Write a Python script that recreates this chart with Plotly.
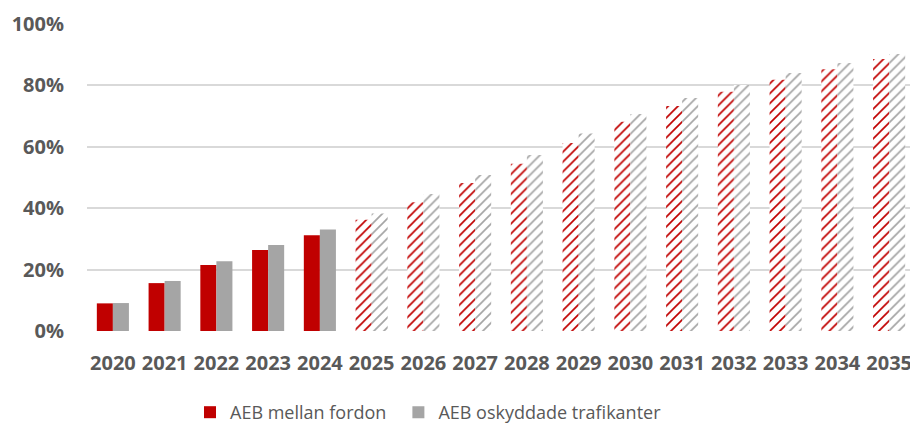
import plotly.graph_objects as go

years = [str(y) for y in range(2020, 2036)]
aeb_fordon = [0.090, 0.156, 0.215, 0.264, 0.312, 0.362, 0.419, 0.482, 0.545, 0.612,
              0.682, 0.733, 0.779, 0.818, 0.853, 0.886]
aeb_oskyddade = [0.091, 0.163, 0.227, 0.280, 0.331, 0.383, 0.446, 0.508, 0.573, 0.643,
                 0.707, 0.759, 0.801, 0.840, 0.873, 0.902]
# historik solid, prognos (2025-) randig
forecast_from = 2025
shapes = ["" if int(y) < forecast_from else "/" for y in years]

RED = "#C00000"
GREY = "#A5A5A5"
TXT = "#595959"

fig = go.Figure()
fig.add_trace(go.Bar(
    x=years, y=aeb_fordon, name="AEB mellan fordon", legend="legend",
    marker=dict(color=RED, line=dict(width=0),
                pattern=dict(shape=shapes, fillmode="replace", bgcolor="white",
                             fgcolor=RED, size=7, solidity=0.24)),
))
fig.add_trace(go.Bar(
    x=years, y=aeb_oskyddade, name="AEB oskyddade trafikanter", legend="legend2",
    marker=dict(color=GREY, line=dict(width=0),
                pattern=dict(shape=shapes, fillmode="replace", bgcolor="white",
                             fgcolor=GREY, size=7, solidity=0.24)),
))

leg = dict(orientation="h", xref="container", yref="container", xanchor="left",
           yanchor="middle", y=0.03, font=dict(size=18, color=TXT), itemwidth=30,
           bgcolor="rgba(0,0,0,0)")

# sidan har 8px body-marginal, därför 910x417
fig.update_layout(
    width=910, height=417,
    margin=dict(l=79, r=3, t=16, b=94, autoexpand=False),
    paper_bgcolor="white", plot_bgcolor="white",
    barmode="group", bargap=0.38, bargroupgap=0,
    font=dict(family="Open Sans", color=TXT),
    legend=dict(leg, x=0.2),
    legend2=dict(leg, x=0.429),
    showlegend=True,
)
fig.update_xaxes(tickfont=dict(size=20, color=TXT, weight="bold"), showgrid=False,
                 showline=False, ticks="", ticklabelstandoff=18, automargin=False)
fig.update_yaxes(range=[0, 1], dtick=0.2, tickformat=".0%",
                 tickfont=dict(size=20, color=TXT, weight="bold"),
                 showgrid=True, gridcolor="#D9D9D9", gridwidth=1.5,
                 zeroline=False, showline=False, ticks="", ticklabelstandoff=22,
                 automargin=False)

fig.write_html("out.html")
